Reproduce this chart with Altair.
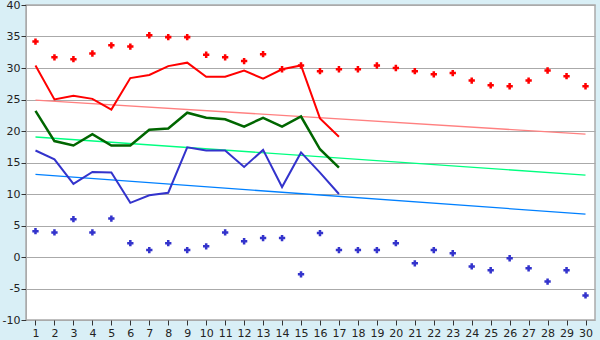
import altair as alt
import pandas as pd

days = list(range(1, 31))

red_points = [34.2, 31.7, 31.4, 32.3, 33.6, 33.4, 35.2, 34.9, 34.9, 32.1,
              31.7, 31.1, 32.2, 29.8, 30.4, 29.5, 29.8, 29.8, 30.4, 30.0,
              29.5, 29.0, 29.2, 28.0, 27.25, 27.1, 28.0, 29.6, 28.7, 27.1]
blue_points = [4.1, 3.9, 6.0, 3.9, 6.1, 2.2, 1.1, 2.2, 1.1, 1.7,
               3.9, 2.5, 3.0, 3.0, -2.75, 3.8, 1.1, 1.1, 1.1, 2.2,
               -1.0, 1.1, 0.6, -1.5, -2.1, -0.2, -1.8, -3.9, -2.1, -6.1]

line_days = list(range(1, 18))
red_line = [30.4, 25.0, 25.6, 25.1, 23.4, 28.4, 28.9, 30.3, 30.85, 28.6,
            28.6, 29.6, 28.3, 29.8, 30.4, 22.0, 19.1]
green_line = [23.2, 18.4, 17.7, 19.5, 17.7, 17.7, 20.2, 20.4, 22.9, 22.1,
              21.85, 20.7, 22.1, 20.7, 22.3, 17.1, 14.2]
blue_line = [16.9, 15.5, 11.6, 13.5, 13.4, 8.6, 9.8, 10.2, 17.4, 16.9,
             16.9, 14.3, 17.0, 11.1, 16.6, 13.4, 10.0]

trend_days = [1, 30]
red_trend = [24.9, 19.5]
green_trend = [19.05, 13.0]
blue_trend = [13.1, 6.8]

x_ticks = list(range(1, 31))
y_ticks = list(range(-10, 41, 5))

xs = alt.Scale(domain=[0.5, 30.5], nice=False, zero=False)
ys = alt.Scale(domain=[-10, 40], nice=False, zero=False)

x_axis = alt.Axis(values=x_ticks, grid=False, domain=False, tickSize=5,
                  tickColor="#333333", labelFontSize=11, labelColor="#222222",
                  labelPadding=2, title=None, labelFont="DejaVu Sans",
                  labelAngle=0)
y_axis = alt.Axis(values=y_ticks, grid=True, gridColor="#aaaaaa", domain=True,
                  domainColor="#aaaaaa", tickSize=5, tickColor="#333333",
                  labelFontSize=11, labelColor="#222222", labelPadding=1,
                  title=None, labelFont="DejaVu Sans",
                  labelExpr="datum.value < 0 ? '-' + abs(datum.value) : '' + datum.value")


def line_layer(xv, yv, color, width):
    df = pd.DataFrame({"day": xv, "v": yv})
    return alt.Chart(df).mark_line(color=color, strokeWidth=width).encode(
        x=alt.X("day:Q", scale=xs, axis=x_axis),
        y=alt.Y("v:Q", scale=ys, axis=y_axis),
    )


def point_layer(xv, yv, color):
    df = pd.DataFrame({"day": xv, "v": yv})
    return alt.Chart(df).mark_point(shape="cross", filled=True, size=40,
                                    color=color, opacity=1).encode(
        x=alt.X("day:Q", scale=xs, axis=x_axis),
        y=alt.Y("v:Q", scale=ys, axis=y_axis),
    )


chart = alt.layer(
    line_layer(trend_days, red_trend, "#ff8080", 1.3),
    line_layer(trend_days, green_trend, "#00ff80", 1.3),
    line_layer(trend_days, blue_trend, "#0080ff", 1.3),
    line_layer(line_days, red_line, "#ff0000", 2),
    line_layer(line_days, green_line, "#006600", 2.5),
    line_layer(line_days, blue_line, "#3333cc", 2),
    point_layer(days, red_points, "#ff0000"),
    point_layer(days, blue_points, "#3333cc"),
).properties(
    width=569, height=315,
    autosize=alt.AutoSizeParams(type="none"),
    padding={"left": 26, "top": 5, "right": 5, "bottom": 20},
    background="#d9eff6",
).configure_view(
    fill="#ffffff", stroke="#aaaaaa", strokeWidth=1.5
)

chart.save("out.html", embed_options={"renderer": "svg", "actions": False})
